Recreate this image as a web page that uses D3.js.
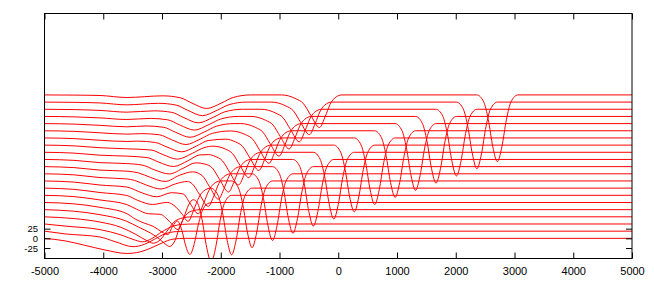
<!DOCTYPE html>
<html>
<head>
<meta charset="utf-8">
<script src="https://cdn.jsdelivr.net/npm/d3@7"></script>
<style>
  body { margin: 0; background: #fff; }
  svg { display: block; }
  .tick text { font-family: "Liberation Sans", Arial, sans-serif; font-size: 11px; fill: #000; }
  .y-axis .tick text { font-size: 9.5px; }
  .tick line { stroke: #000; }
  .curve { fill: none; stroke: #ff0000; stroke-width: 1; }
</style>
</head>
<body>
<div id="chart-area"><svg></svg></div>
<script>
const chartSize = { width: 654, height: 285 };
const frame = { left: 44.5, right: 632, top: 13.5, bottom: 258.5 };

const xTicks = [-5000, -4000, -3000, -2000, -1000, 0, 1000, 2000, 3000, 4000, 5000];
const xTickLabels = ["-5000", "-4000", "-3000", "-2000", "-1000", "0", "1000", "2000", "3000", "4000", "5000"];
const yTicks = [25, 0, -25];
const yTickLabels = ["25", "0", "-25"];

// vertical offset of each trace
const offsets = [0, 18.5, 37, 55.5, 74, 92.5, 111, 129.5, 148, 166.5, 185,
  203.5, 222, 240.5, 259, 277.5, 296, 314.5, 333, 351.5, 370];

// [x, deviation from the trace's offset], one list per trace, bottom to top
const profiles = [
  [[-5000,0],[-4650,-6.5],[-4340,-17],[-3970,-30],[-3600,-39],[-3375,-35],[-3204,-26],[-3000,-12],[-2813,-2],[-2600,0],[5000,0]],
  [[-5000,0],[-4650,-7],[-4055,-15],[-3800,-27],[-3494,-40],[-3300,-34],[-3130,-21],[-2950,-7],[-2750,-1],[-2550,0],[5000,0]],
  [[-5000,0],[-4600,-6],[-4055,-14.5],[-3700,-28],[-3450,-42],[-3330,-46],[-3180,-38],[-3000,-20],[-2820,-6],[-2650,-1],[-2450,0],[5000,0]],
  [[-5000,0],[-4500,-4.5],[-4055,-13.5],[-3700,-27],[-3450,-45],[-3250,-62],[-3150,-68],[-3050,-62],[-2920,-38],[-2800,-14],[-2650,-3],[-2500,0],[5000,0]],
  [[-5000,0],[-4500,-4],[-4055,-13],[-3600,-30],[-3400,-45],[-3200,-60],[-3050,-75],[-2950,-88],[-2870,-95],[-2780,-80],[-2700,-45],[-2600,-15],[-2480,-3],[-2350,0],[5000,0]],
  [[-5000,0],[-4500,-3.5],[-4055,-12.5],[-3600,-28.7],[-3450,-43.3],[-3301,-53.3],[-3150,-61.5],[-3000,-76.3],[-2900,-82.8],[-2820,-61.8],[-2740,-47.6],[-2660,-73],[-2600,-110],[-2525,-134],[-2450,-106],[-2380,-56],[-2300,-16.5],[-2200,-1.6],[-2100,0],[5000,0]],
  [[-5000,0],[-4500,-3.3],[-4055,-12],[-3600,-23.8],[-3431,-36],[-3231,-47.6],[-3031,-48.9],[-2878,-66.6],[-2728,-88.5],[-2628,-57],[-2548,-25],[-2468,-11.4],[-2395,-20],[-2318,-63],[-2240,-134],[-2163,-172],[-2086,-134],[-2008,-63],[-1931,-18],[-1813,0],[5000,0]],
  [[-5000,0],[-4500,-3.1],[-4055,-11.3],[-3600,-18.9],[-3410,-31.7],[-3160,-42.1],[-2910,-36.8],[-2760,-49.3],[-2656,-67.4],[-2556,-85.7],[-2456,-55],[-2376,-25],[-2296,-8],[-2170,0],[-2047,-18],[-1970,-63],[-1892,-134],[-1815,-172],[-1738,-134],[-1660,-63],[-1583,-18],[-1465,0],[5000,0]],
  [[-5000,0],[-4500,-2.9],[-4055,-10.5],[-3600,-15.7],[-3339,-30.8],[-3089,-40.8],[-2839,-30.3],[-2639,-33.5],[-2534,-54.8],[-2384,-84.6],[-2284,-55],[-2204,-25],[-2124,-8],[-2004,0],[-1817,0],[-1699,-18],[-1622,-63],[-1544,-134],[-1467,-172],[-1390,-134],[-1312,-63],[-1235,-18],[-1117,0],[5000,0]],
  [[-5000,0],[-4500,-2.7],[-4055,-9.75],[-3600,-13.3],[-3468,-17],[-3268,-29],[-3018,-39.2],[-2768,-25.8],[-2568,-19.8],[-2487,-25.5],[-2362,-53],[-2212,-84],[-2112,-55],[-2032,-25],[-1952,-8],[-1832,0],[-1469,0],[-1351,-18],[-1274,-63],[-1196,-134],[-1119,-172],[-1042,-134],[-964,-63],[-887,-18],[-769,0],[5000,0]],
  [[-5000,0],[-4500,-2.5],[-4055,-9],[-3600,-11.7],[-3397,-16.3],[-3197,-27.8],[-2947,-38.2],[-2697,-22.1],[-2480,-13.5],[-2315,-23.3],[-2190,-52],[-2040,-84],[-1940,-55],[-1860,-25],[-1780,-8],[-1660,0],[-1121,0],[-1003,-18],[-926,-63],[-848,-134],[-771,-172],[-694,-134],[-616,-63],[-539,-18],[-421,0],[5000,0]],
  [[-5000,0],[-4500,-2.3],[-4055,-8.25],[-3600,-10.6],[-3326,-14.9],[-3126,-27],[-2876,-37.3],[-2626,-21.7],[-2426,-8.7],[-2268,-12],[-2143,-22],[-2018,-52],[-1868,-84],[-1768,-55],[-1688,-25],[-1608,-8],[-1488,0],[-774,0],[-656,-18],[-579,-63],[-501,-134],[-424,-172],[-347,-134],[-269,-63],[-192,-18],[-74,0],[5000,0]],
  [[-5000,0],[-4500,-2.1],[-4055,-7.5],[-3600,-9.9],[-3255,-13.6],[-3055,-25.4],[-2805,-36.7],[-2555,-21.5],[-2355,-6.7],[-2205,-6],[-2096,-10.6],[-1971,-22],[-1846,-52],[-1696,-84],[-1596,-55],[-1516,-25],[-1436,-8],[-1316,0],[-426,0],[-308,-18],[-231,-63],[-153,-134],[-76,-172],[1,-134],[79,-63],[156,-18],[274,0],[5000,0]],
  [[-5000,0],[-4500,-1.9],[-4055,-6.75],[-3600,-9.5],[-3185,-12.6],[-2985,-24.4],[-2735,-36.2],[-2485,-21.3],[-2285,-6.7],[-2135,-2.7],[-1924,-10],[-1799,-22],[-1674,-52],[-1524,-84],[-1424,-55],[-1344,-25],[-1264,-8],[-1144,0],[-78,0],[40,-18],[117,-63],[195,-134],[272,-172],[349,-134],[427,-63],[504,-18],[622,0],[5000,0]],
  [[-5000,0],[-4500,-1.7],[-4055,-6],[-3600,-9.1],[-3414,-8.2],[-3114,-11.7],[-2914,-23.5],[-2664,-35.8],[-2414,-21],[-2214,-6.7],[-1914,-3.2],[-1752,-10],[-1627,-22],[-1502,-52],[-1352,-84],[-1252,-55],[-1172,-25],[-1092,-8],[-972,0],[270,0],[388,-18],[465,-63],[543,-134],[620,-172],[697,-134],[775,-63],[852,-18],[970,0],[5000,0]],
  [[-5000,0],[-4500,-1.5],[-4055,-5.25],[-3600,-8.7],[-3343,-7.4],[-3043,-10.4],[-2843,-22.7],[-2593,-35.5],[-2343,-21],[-2143,-6.7],[-1836,-0.5],[-1580,-10],[-1455,-22],[-1330,-52],[-1180,-84],[-1080,-55],[-1000,-25],[-920,-8],[-800,0],[618,0],[736,-18],[813,-63],[891,-134],[968,-172],[1045,-134],[1123,-63],[1200,-18],[1318,0],[5000,0]],
  [[-5000,0],[-4500,-1.3],[-4055,-4.5],[-3600,-8.3],[-3272,-6.1],[-2972,-9.5],[-2772,-22.2],[-2522,-35.3],[-2272,-21],[-2072,-6.7],[-1772,0],[-1658,0],[-1408,-10],[-1283,-22],[-1158,-52],[-1008,-84],[-908,-55],[-828,-25],[-748,-8],[-628,0],[966,0],[1084,-18],[1161,-63],[1239,-134],[1316,-172],[1393,-134],[1471,-63],[1548,-18],[1666,0],[5000,0]],
  [[-5000,0],[-4500,-1.1],[-4055,-3.75],[-3600,-7.9],[-3201,-5.1],[-2901,-8.8],[-2701,-21.8],[-2451,-35.2],[-2201,-21],[-2001,-6.7],[-1701,0],[-1486,0],[-1236,-10],[-1111,-22],[-986,-52],[-836,-84],[-736,-55],[-656,-25],[-576,-8],[-456,0],[1314,0],[1432,-18],[1509,-63],[1587,-134],[1664,-172],[1741,-134],[1819,-63],[1896,-18],[2014,0],[5000,0]],
  [[-5000,0],[-4500,-0.9],[-4055,-3],[-3600,-7.5],[-3131,-4.1],[-2831,-8.1],[-2631,-21.5],[-2381,-35],[-2131,-21],[-1931,-6.7],[-1631,0],[-1314,0],[-1064,-10],[-939,-22],[-814,-52],[-664,-84],[-564,-55],[-484,-25],[-404,-8],[-284,0],[1662,0],[1780,-18],[1857,-63],[1935,-134],[2012,-172],[2089,-134],[2167,-63],[2244,-18],[2362,0],[5000,0]],
  [[-5000,0],[-4500,-0.7],[-4055,-2.25],[-3600,-7.1],[-3060,-3.2],[-2760,-7.8],[-2560,-21.4],[-2310,-35],[-2060,-21],[-1860,-6.7],[-1560,0],[-1142,0],[-892,-10],[-767,-22],[-642,-52],[-492,-84],[-392,-55],[-312,-25],[-232,-8],[-112,0],[2010,0],[2128,-18],[2205,-63],[2283,-134],[2360,-172],[2437,-134],[2515,-63],[2592,-18],[2710,0],[5000,0]],
  [[-5000,0],[-4500,-0.5],[-4055,-1.5],[-3600,-6.7],[-2989,-2.4],[-2689,-7.4],[-2489,-21.2],[-2239,-35],[-1989,-21],[-1789,-6.7],[-1489,0],[-970,0],[-720,-10],[-595,-22],[-470,-52],[-320,-84],[-220,-55],[-140,-25],[-60,-8],[60,0],[2358,0],[2476,-18],[2553,-63],[2631,-134],[2708,-172],[2785,-134],[2863,-63],[2940,-18],[3058,0],[5000,0]]
];

const svg = d3.select('#chart-area svg')
  .attr("width", chartSize.width)
  .attr("height", chartSize.height);

const x = d3.scaleLinear()
  .domain([-5000, 5000])
  .range([frame.left, frame.right]);

const y = d3.scaleLinear()
  .domain([-52, 580])
  .range([frame.bottom, frame.top]);

svg.append("clipPath")
  .attr("id", "plot-clip")
  .append("rect")
  .attr("x", frame.left)
  .attr("y", frame.top)
  .attr("width", frame.right - frame.left)
  .attr("height", frame.bottom - frame.top);

const line = d3.line()
  .x(p => x(p[0]))
  .y(p => y(p[1]))
  .curve(d3.curveMonotoneX);

svg.append("g")
  .attr("clip-path", "url(#plot-clip)")
  .selectAll("path")
  .data(profiles)
  .join("path")
  .attr("class", "curve")
  .attr("d", (pts, i) => line(pts.map(p => [p[0], offsets[i] + p[1]])));

// gnuplot style: ticks point inwards, mirrored on the opposite side
const xAxis = d3.axisBottom(x).tickValues(xTicks)
  .tickFormat((d, i) => xTickLabels[i]).tickSize(-6).tickPadding(8.5);
const xAxisTop = d3.axisTop(x).tickValues(xTicks).tickFormat("").tickSize(-6);
const yAxis = d3.axisLeft(y).tickValues(yTicks)
  .tickFormat((d, i) => yTickLabels[i]).tickSize(-6).tickPadding(6.5);
const yAxisRight = d3.axisRight(y).tickValues(yTicks).tickFormat("").tickSize(-6);

svg.append("g").attr("transform", `translate(0,${frame.bottom})`).call(xAxis);
svg.append("g").attr("transform", `translate(0,${frame.top})`).call(xAxisTop);
svg.append("g").attr("class", "y-axis").attr("transform", `translate(${frame.left},0)`).call(yAxis);
svg.append("g").attr("transform", `translate(${frame.right},0)`).call(yAxisRight);
svg.selectAll(".domain").remove();

svg.append("rect")
  .attr("x", frame.left)
  .attr("y", frame.top)
  .attr("width", frame.right - frame.left)
  .attr("height", frame.bottom - frame.top)
  .attr("fill", "none")
  .attr("stroke", "#000");
</script>
</body>
</html>
